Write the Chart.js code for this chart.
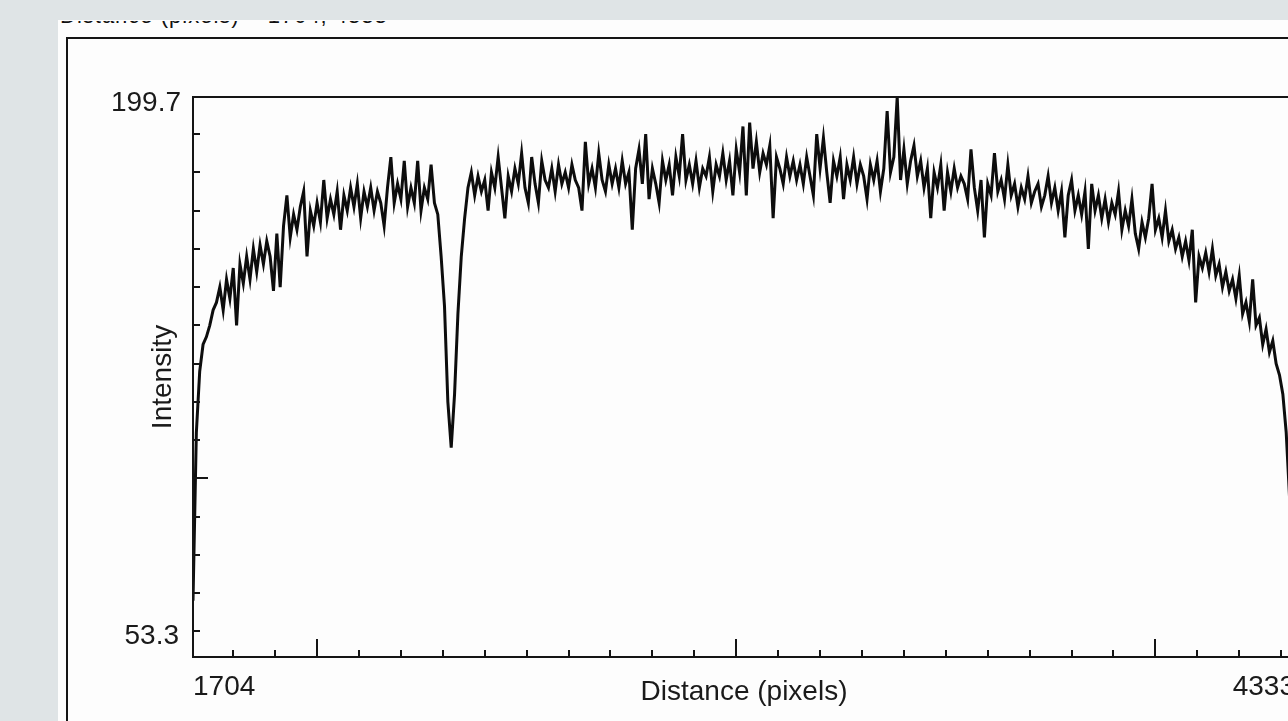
<!DOCTYPE html>
<html>
<head>
<meta charset="utf-8">
<script src="https://cdn.jsdelivr.net/npm/chart.js@4.4.1/dist/chart.umd.min.js"></script>
<style>
  html, body { margin: 0; padding: 0; overflow: hidden; }
  body { width: 1288px; height: 721px; background: #dfe4e6; position: relative; font-family: "Liberation Sans", Arial, sans-serif; }
  #panel { position: absolute; left: 58px; top: 20px; width: 1300px; height: 720px; background: #fdfdfd; }
  #cut { position: absolute; left: 58px; top: 21px; width: 420px; height: 7px; overflow: hidden; }
  #cut span { position: absolute; left: 2px; top: -18px; font-size: 22px; color: #111; white-space: nowrap; letter-spacing: 1px; }
  #frame { position: absolute; left: 66px; top: 37px; width: 1300px; height: 720px; border-left: 2px solid #151515; border-top: 2px solid #151515; }
  #plot { position: absolute; left: 0; top: 0; }
</style>
</head>
<body>
<div id="panel"></div>
<div id="cut"><span>Distance (pixels) = 1704, 4333</span></div>
<div id="frame"></div>
<canvas id="plot" width="1320" height="721"></canvas>
<script>
// Dados
const distanceStart = 1704;
const distanceEnd = 4333;
const distanceStep = 8;
const intensity = [
  68, 112, 128, 135, 137, 140, 144, 146, 150, 144,
  152, 147, 155, 140, 156, 151, 158, 152, 160, 154,
  161, 156, 162, 158, 149, 164, 150, 166, 174, 163,
  169, 165, 171, 175, 158, 170, 166, 172, 167, 178,
  168, 173, 169, 175, 165, 174, 170, 176, 171, 177,
  168, 175, 171, 176, 170, 175, 172, 166, 176, 184,
  172, 177, 173, 183, 171, 176, 172, 183, 170, 176,
  173, 182, 172, 169, 158, 145, 120, 108, 122, 143,
  158, 168, 176, 180, 174, 179, 175, 178, 170, 180,
  176, 184, 176, 168, 179, 175, 181, 177, 185, 176,
  172, 184, 177, 172, 183, 178, 176, 181, 175, 182,
  177, 180, 176, 182, 178, 176, 170, 188, 177, 181,
  176, 185, 178, 175, 182, 177, 181, 176, 183, 177,
  180, 165, 181, 186, 177, 190, 173, 181, 177, 172,
  183, 178, 182, 174, 184, 179, 190, 178, 182, 177,
  183, 176, 181, 179, 184, 175, 182, 179, 185, 178,
  183, 174, 186, 180, 192, 174, 193, 181, 188, 180,
  185, 182, 187, 168, 184, 181, 177, 184, 179, 183,
  178, 182, 177, 184, 179, 174, 190, 181, 189, 180,
  172, 183, 179, 184, 173, 182, 178, 184, 177, 182,
  179, 173, 182, 178, 183, 175, 181, 196, 180, 184,
  199.7, 178, 186, 177, 183, 187, 179, 183, 176, 181,
  168, 180, 176, 182, 170, 180, 175, 181, 176, 179,
  177, 173, 186, 176, 170, 178, 163, 177, 174, 185,
  175, 178, 173, 182, 174, 177, 171, 176, 173, 179,
  172, 175, 177, 171, 174, 179, 172, 176, 170, 175,
  163, 174, 178, 170, 174, 169, 175, 160, 177, 170,
  174, 168, 173, 167, 172, 169, 175, 165, 170, 166,
  173, 164, 160, 167, 163, 168, 177, 165, 168, 163,
  170, 162, 165, 160, 163, 158, 162, 157, 165, 146,
  158, 155, 159, 154, 160, 153, 156, 150, 154, 149,
  152, 147, 153, 143, 146, 141, 152, 140, 142, 135,
  139, 133, 136, 130, 127, 122, 112, 95, 78
];
const intensityMin = 53.3;
const intensityMax = 199.7;
const xMajorTicks = [2000, 3000, 4000];
const yMajorTicks = [100];
const xLabels = ['1704', '4333'];
const yLabels = ['199.7', '53.3'];
const xTitle = 'Distance (pixels)';
const yTitle = 'Intensity';

const pontos = intensity.map((v, i) => ({ x: distanceStart + i * distanceStep, y: v }));

// moldura, marcas e textos no estilo do ImageJ
const moldura = {
  id: 'moldura',
  afterDatasetsDraw(chart) {
    const { ctx, chartArea: a, scales: { x, y } } = chart;
    ctx.save();
    ctx.strokeStyle = '#151515';
    ctx.lineWidth = 2;
    ctx.strokeRect(a.left, a.top, a.right - a.left, a.bottom - a.top);
    ctx.beginPath();
    for (let v = 1800; v <= 4300; v += 100) {
      const px = Math.round(x.getPixelForValue(v));
      const len = xMajorTicks.includes(v) ? 18 : 7;
      ctx.moveTo(px, a.bottom);
      ctx.lineTo(px, a.bottom - len);
    }
    for (let v = 60; v <= 190; v += 10) {
      const py = Math.round(y.getPixelForValue(v));
      const len = yMajorTicks.includes(v) ? 15 : 7;
      ctx.moveTo(a.left, py);
      ctx.lineTo(a.left + len, py);
    }
    ctx.stroke();

    ctx.fillStyle = '#1a1a1a';
    ctx.font = '28px "Liberation Sans", Arial, sans-serif';
    ctx.textBaseline = 'middle';
    ctx.textAlign = 'right';
    ctx.fillText(yLabels[0], a.left - 12, a.top + 6);
    ctx.fillText(yLabels[1], a.left - 14, a.bottom - 21);
    ctx.textAlign = 'left';
    ctx.fillText(xLabels[0], a.left, a.bottom + 30);
    ctx.textAlign = 'right';
    ctx.fillText(xLabels[1], a.right, a.bottom + 30);
    ctx.textAlign = 'center';
    ctx.fillText(xTitle, (a.left + a.right) / 2, a.bottom + 35);
    ctx.translate(a.left - 30, (a.top + a.bottom) / 2);
    ctx.rotate(-Math.PI / 2);
    ctx.fillText(yTitle, 0, 0);
    ctx.restore();
  }
};

window.onload = function() {
  const canvas = document.getElementById('plot');
  new Chart(canvas, {
    type: 'line',
    data: {
      datasets: [{
        data: pontos,
        borderColor: '#0d0d0d',
        borderWidth: 3,
        pointRadius: 0,
        tension: 0
      }]
    },
    options: {
      responsive: false,
      animation: false,
      layout: { padding: { left: 193, top: 97, right: 25, bottom: 64 } },
      plugins: { legend: { display: false }, tooltip: { enabled: false } },
      scales: {
        x: { type: 'linear', min: distanceStart, max: distanceEnd, display: false },
        y: { min: intensityMin, max: intensityMax, display: false }
      }
    },
    plugins: [moldura]
  });
};
</script>
</body>
</html>
